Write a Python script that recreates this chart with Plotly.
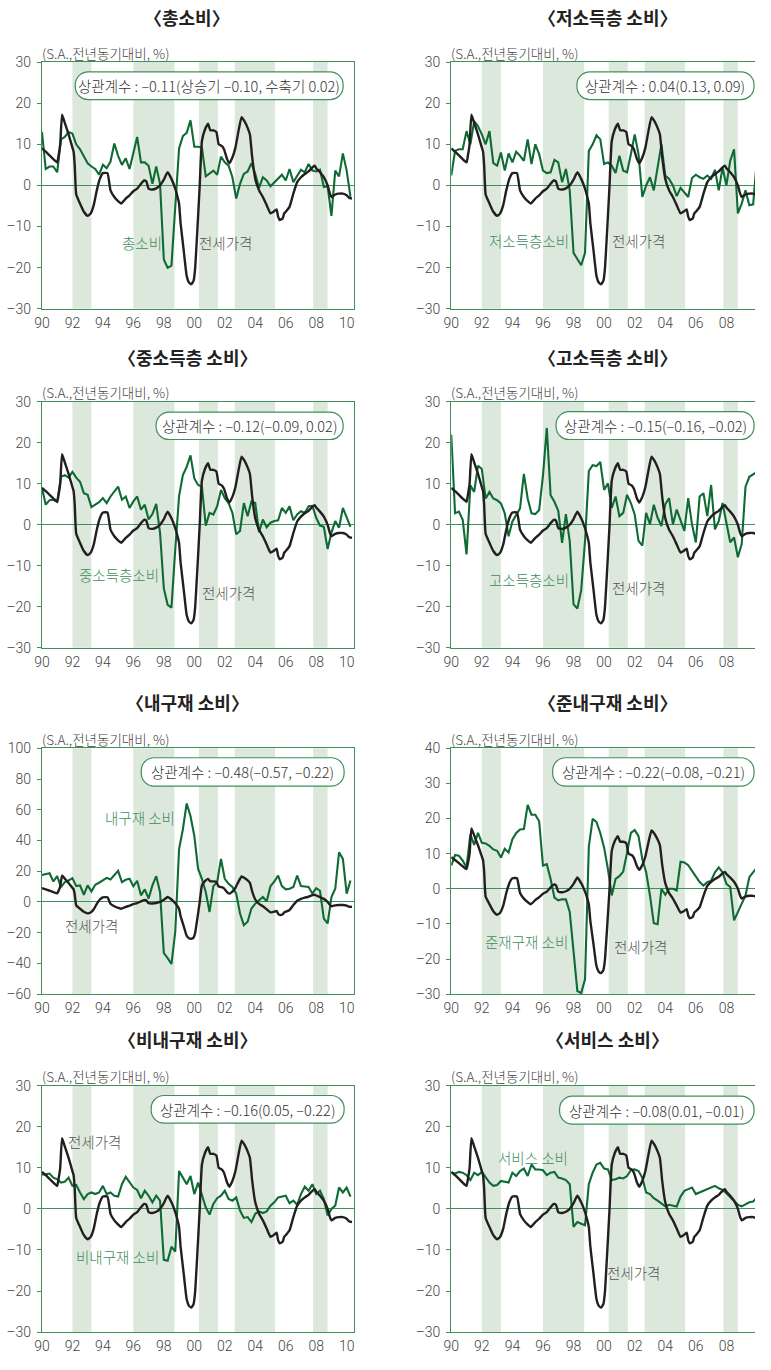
import plotly.graph_objects as go

# page is 771 x 1370; the document body keeps its default 8px margin,
# so the figure itself is drawn 16px smaller in each direction
PAGE_W, PAGE_H = 771, 1370
OFF = 8
W, H = PAGE_W - 2 * OFF, PAGE_H - 2 * OFF
KFONT = "Noto Sans CJK KR"
NFONT = "Roboto"

# ---------------- data ----------------
# quarterly observations, 1990Q1 .. 2010Q2
quarters = [1990 + i / 4 for i in range(82)]

# jeonse (lease deposit) price, YoY %, plotted on its own time grid
jeonse_t = [1990.0, 1990.25, 1990.5, 1990.75, 1991.0, 1991.1, 1991.2, 1991.32, 1991.5, 1991.75,
            1992.0, 1992.08, 1992.15, 1992.25, 1992.5, 1992.75, 1993.0, 1993.2, 1993.4, 1993.6,
            1993.8, 1994.0, 1994.3, 1994.5, 1994.75, 1995.0, 1995.2, 1995.5, 1995.75, 1996.0,
            1996.25, 1996.5, 1996.7, 1996.85, 1997.0, 1997.25, 1997.5, 1997.75, 1998.0, 1998.25,
            1998.5, 1998.75, 1998.9, 1999.0, 1999.1, 1999.3, 1999.5, 1999.65, 1999.8, 1999.95,
            2000.05, 2000.2, 2000.35, 2000.5, 2000.7, 2000.9, 2001.05, 2001.25, 2001.45, 2001.6,
            2001.8, 2001.95, 2002.15, 2002.3, 2002.5, 2002.7, 2002.9, 2003.1, 2003.3, 2003.5,
            2003.65, 2003.8, 2004.0, 2004.25, 2004.5, 2004.75, 2005.0, 2005.2, 2005.4, 2005.5,
            2005.6, 2005.8, 2005.9, 2006.0, 2006.25, 2006.5, 2006.75, 2007.0, 2007.25, 2007.5,
            2007.75, 2007.9, 2008.0, 2008.25, 2008.5, 2008.75, 2008.9, 2009.0, 2009.25, 2009.5,
            2009.75, 2010.0, 2010.15, 2010.35]
jeonse_v = [9.0, 8.2, 7.3, 6.4, 5.6, 7.5, 10.0, 17.2, 15.2, 12.4,
            9.2, 8.2, 5.0, -2.2, -4.4, -6.4, -7.4, -6.8, -4.8, -1.2,
            1.6, 3.0, 3.0, -1.2, -2.8, -3.8, -4.4, -3.2, -2.4, -1.4,
            -0.8, 0.4, 1.2, 1.0, -0.8, -1.0, -0.7, 0.0, 1.4, 3.2,
            1.6, -0.8, -2.8, -4.4, -9.2, -15.6, -22.0, -23.6, -24.0, -23.2,
            -20.4, -10.8, -0.4, 10.8, 13.6, 15.0, 13.4, 13.4, 13.0, 10.0,
            9.6, 8.8, 6.4, 5.4, 6.8, 9.2, 13.2, 16.6, 15.6, 14.0,
            12.4, 6.8, 1.6, -1.2, -2.8, -4.8, -6.8, -6.4, -5.8, -7.6,
            -8.4, -8.0, -6.8, -6.4, -5.2, -2.0, 0.8, 2.0, 2.8, 3.4,
            4.4, 4.8, 4.2, 3.2, 2.0, 0.0, -2.0, -2.8, -2.2, -2.0,
            -2.0, -2.4, -3.0, -3.2]

# consumption, YoY %, quarterly
total = [13.0, 4.0, 4.6, 4.6, 3.2, 11.2, 11.8, 13.0, 12.6, 10.0,
         8.8, 7.0, 5.4, 4.6, 4.0, 2.6, 5.0, 4.2, 5.8, 10.2,
         7.2, 5.0, 6.6, 4.0, 7.6, 11.8, 5.6, 5.6, 4.8, 0.4,
         4.6, 0.4, -18.0, -20.0, -19.5, -5.0, 9.0, 12.0, 12.8, 15.8,
         9.4, 9.4, 9.2, 2.2, 2.8, 3.6, 2.6, 7.0, 5.6, 4.8,
         2.0, -3.2, 0.4, 2.8, 3.4, 5.4, 2.8, -0.6, 2.0, 1.2,
         -0.2, 0.8, 1.6, 2.6, 1.2, 4.0, 0.8, 2.4, 3.8, 3.2,
         5.2, 3.6, 3.4, 3.8, -0.4, -0.2, -7.4, 3.6, 2.2, 7.8,
         3.6, -2.8]
low_income = [2.4, 8.4, 8.8, 8.8, 13.2, 10.0, 15.6, 14.4, 12.4, 10.0,
              13.2, 5.4, 4.8, 8.0, 3.6, 7.8, 5.6, 8.2, 7.2, 6.0,
              11.2, 5.2, 10.0, 7.6, 3.6, 3.0, 3.2, 6.2, 5.6, 0.8,
              4.0, -1.2, -16.4, -18.0, -19.4, -16.4, 8.4, 10.0, 12.2, 11.2,
              5.2, 5.6, 4.8, 3.0, 7.2, 3.6, 3.2, 7.6, 12.4, 7.6,
              -2.8, 0.0, 2.0, -1.2, 4.4, 10.0, 2.4, 1.6, 0.0, -2.6,
              -0.6, -1.6, -2.8, 1.8, 2.6, 2.0, 1.6, 2.4, 1.6, 3.8,
              -1.2, 4.4, 0.0, 6.0, 8.8, -6.8, -4.4, -1.2, -4.8, -4.6,
              6.6, 2.8]
mid_income = [9.0, 4.9, 6.0, 6.1, 5.6, 11.7, 12.1, 11.5, 12.9, 11.5,
              10.5, 7.7, 7.3, 4.3, 4.9, 5.5, 6.5, 5.3, 6.9, 8.0,
              9.3, 6.1, 6.9, 4.1, 5.7, 6.9, 3.7, 4.9, 1.3, 2.6,
              5.1, -1.9, -15.5, -19.5, -20.2, -6.0, 7.0, 12.1, 14.1, 16.9,
              11.3, 9.7, 9.3, -0.2, 2.9, 2.5, 4.5, 8.5, 6.5, 5.3,
              2.9, -2.3, -1.5, 5.3, 2.1, 5.7, 5.3, -1.8, 1.3, -0.6,
              0.5, 0.9, 1.1, 4.1, 2.9, 4.5, 1.1, 2.5, 3.3, 2.9,
              4.5, 4.6, 1.7, -0.2, -0.5, -5.9, -1.9, 0.9, -0.7, 4.1,
              1.7, -0.5]
high_income = [22.0, 2.8, 3.2, 1.2, -7.2, 9.6, 8.0, 14.4, 13.6, 6.4,
               8.0, 6.4, 6.0, 5.2, 2.8, -2.8, 0.8, 2.4, 4.0, 12.4,
               6.4, 2.8, 2.6, 3.6, 12.0, 23.6, 7.2, 5.6, 3.4, -4.4,
               2.6, -4.0, -19.4, -20.4, -16.0, -4.0, 13.1, 14.5, 14.3, 15.3,
               8.5, 10.1, 4.1, 6.9, 2.1, 2.9, 7.3, 5.3, 2.5, -3.9,
               -5.1, 2.9, 0.1, 4.9, 1.7, -0.3, 5.0, 6.5, 0.1, 3.7,
               1.3, -1.5, 6.5, 0.1, -4.3, 6.9, 7.7, 2.1, 9.7, -1.1,
               0.9, 5.3, 0.5, -4.3, -3.1, -7.9, -4.7, 9.3, 11.7, 12.4,
               12.9, -9.1]
durable = [17.6, 18.3, 18.7, 13.3, 16.8, 9.7, 12.9, 14.0, 15.5, 10.3,
           10.8, 4.7, 10.8, 6.9, 11.2, 12.5, 14.0, 15.7, 14.6, 17.2,
           20.2, 12.9, 14.4, 15.1, 10.3, 13.8, 4.3, 8.2, 2.2, 10.8,
           16.8, 6.5, -33.3, -36.6, -40.4, -19.4, 34.4, 47.3, 64.1, 55.9,
           43.0, 21.5, 15.1, 6.5, -6.5, 10.3, 12.9, 28.0, 15.1, 11.8,
           9.7, 5.4, -7.5, -15.1, -12.9, -4.3, -1.1, 1.1, 3.2, 0.4,
           10.3, 13.3, 17.2, 10.3, 8.2, 8.6, 9.7, 17.2, 10.3, 10.1,
           9.7, 5.4, 9.0, 7.3, -10.8, -14.0, 3.2, 8.6, 32.3, 28.0,
           5.4, 14.0]
semi_durable = [6.6, 9.6, 9.4, 8.0, 6.1, 15.5, 12.5, 15.9, 13.1, 12.9,
                12.2, 11.2, 10.8, 8.9, 11.4, 10.3, 14.1, 15.9, 16.9, 17.0,
                23.9, 21.1, 21.1, 19.2, 6.6, 7.0, 2.8, -2.5, -3.3, -3.0,
                -3.0, -6.6, -17.8, -29.1, -29.7, -25.8, 12.0, 19.9, 19.0, 15.9,
                11.7, 5.6, -1.9, 2.8, 3.6, 4.9, 10.3, 15.9, 16.7, 15.0,
                8.4, 4.7, -1.9, -9.8, -10.1, 0.0, -1.7, 0.0, 0.0, -0.5,
                7.7, 7.5, 6.7, 5.2, 3.7, 1.9, 0.9, 1.9, 2.3, 4.7,
                6.1, 4.7, 1.4, 0.5, -9.0, -6.6, -4.7, -1.9, 3.3, 4.7,
                6.1, 6.1]
nondurable = [8.4, 8.4, 8.6, 7.6, 7.2, 6.4, 6.6, 7.6, 5.6, 5.8,
              4.0, 2.4, 3.6, 4.0, 3.6, 4.0, 5.6, 3.6, 4.0, 3.2,
              3.0, 6.0, 7.8, 6.4, 5.2, 4.6, 2.6, 4.4, 3.2, 1.6,
              3.2, 2.0, -12.4, -12.6, -9.2, -10.4, 9.2, 7.6, 6.0, 8.0,
              3.6, 6.4, 3.2, 0.4, -1.4, 1.2, 2.6, 3.2, 4.4, 2.4,
              2.0, 2.8, -0.4, -2.2, -2.0, -3.2, -1.2, -0.6, -1.0, -0.6,
              0.8, 1.6, 2.8, 3.0, 3.2, 1.4, 2.0, 1.0, 3.6, 5.4,
              4.4, 6.0, 3.6, 4.4, 2.4, -1.6, 0.0, 0.8, 5.2, 4.0,
              5.2, 3.0]
services = [8.8, 8.6, 9.0, 8.8, 8.2, 7.0, 8.8, 8.2, 9.0, 7.6,
            6.4, 5.6, 5.8, 6.8, 6.6, 6.4, 8.8, 8.0, 9.2, 9.8,
            8.0, 10.8, 9.6, 9.6, 9.4, 8.2, 8.8, 9.0, 7.6, 7.4,
            7.0, 6.0, -4.4, -3.2, -3.6, -4.0, 6.0, 8.8, 10.8, 11.2,
            9.8, 9.6, 7.0, 7.2, 7.6, 7.4, 8.0, 9.4, 9.6, 9.2,
            7.6, 4.0, 3.6, 2.6, 2.0, 1.2, 0.6, 1.0, 0.8, 0.6,
            3.0, 4.4, 4.8, 5.2, 3.6, 4.0, 4.4, 4.8, 5.2, 5.6,
            5.0, 4.6, 3.8, 2.8, 2.0, 1.0, 0.6, 1.0, 1.6, 1.8,
            2.8, 1.6]

# business-cycle contraction periods (shaded)
contractions = [(1992.0, 1993.25), (1996.0, 1998.7), (2000.3, 2001.55),
                (2002.65, 2005.3), (2007.8, 2008.75)]

x_tick_vals = list(range(1990, 2011, 2))
x_tick_text = ["90", "92", "94", "96", "98", "00", "02", "04", "06", "08", "10"]

titles = ["〈총소비〉", "〈저소득층 소비〉", "〈중소득층 소비〉", "〈고소득층 소비〉",
          "〈내구재 소비〉", "〈준내구재 소비〉", "〈비내구재 소비〉", "〈서비스 소비〉"]
series_names = ["총소비", "저소득층소비", "중소득층소비", "고소득층소비",
                "내구재 소비", "준재구재 소비", "비내구재 소비", "서비스 소비"]
correlations = ["상관계수 : –0.11(상승기 –0.10, 수축기 0.02)",
                "상관계수 : 0.04(0.13, 0.09)",
                "상관계수 : –0.12(–0.09, 0.02)",
                "상관계수 : –0.15(–0.16, –0.02)",
                "상관계수 : –0.48(–0.57, –0.22)",
                "상관계수 : –0.22(–0.08, –0.21)",
                "상관계수 : –0.16(0.05, –0.22)",
                "상관계수 : –0.08(0.01, –0.01)"]
series_values = [total, low_income, mid_income, high_income,
                 durable, semi_durable, nondurable, services]
y_ranges = [(-30, 30, 10)] * 4 + [(-60, 100, 20), (-30, 40, 10)] + [(-30, 30, 10)] * 2

# ---------------- layout geometry (page pixels) ----------------
COL_X = [(42.3, 357.7), (456.0, PAGE_W - OFF)]
PX_PER_YEAR = [15.4, 15.45]
ROW_Y = [(62.7, 312.7), (406.7, 656.0), (757.7, 1006.7), (1099.3, 1349.0)]
TITLE_X = [189, 614]
TITLE_Y = [17, 361.7, 710.7, 1052]
UNIT_Y = [53.3, 396.7, 748.3, 1090]

BOXES = [(76, 72.7, 346.7, 100.7), (583, 72.7, 762, 100.7),
         (157.7, 417.3, 346.7, 445), (562, 416.7, 762, 445),
         (142.7, 767.3, 347.7, 796), (558.5, 767.3, 762, 796),
         (152.7, 1109.3, 347.7, 1137.3), (565.5, 1110, 762, 1138.3)]
SERIES_LABEL_POS = [(143, 245), (534.7, 243.3), (119.7, 581.7), (535, 586.7),
                    (141.7, 827.3), (532, 953.3), (118.3, 1272.7), (538.8, 1171.7)]
JEONSE_LABEL_POS = [(228, 245), (645, 243.3), (231.3, 600), (645, 595),
                    (92, 936.7), (647.3, 958.3), (95, 1156), (640.7, 1288.3)]

GREEN = "#0f6b34"
AXIS_GREEN = "#3f8f5a"
LABEL_GREEN = "#3d8c59"
BAND = "#dde8dc"
BLACK = "#231f20"
GRAY_TEXT = "#555555"
TICK_FONT = dict(family=NFONT, size=14, color="#444", weight=300)


def px_x(px):
    return (px - OFF) / W


def px_y(py):
    return 1 - (py - OFF) / H


def pill_path(x0, y0, x1, y1, r):
    k = 0.5523 * r

    def P(x, y):
        return f"{px_x(x):.5f},{px_y(y):.5f}"

    return " ".join([
        f"M{P(x0 + r, y0)}",
        f"L{P(x1 - r, y0)}",
        f"C{P(x1 - r + k, y0)} {P(x1, y0 + r - k)} {P(x1, y0 + r)}",
        f"L{P(x1, y1 - r)}",
        f"C{P(x1, y1 - r + k)} {P(x1 - r + k, y1)} {P(x1 - r, y1)}",
        f"L{P(x0 + r, y1)}",
        f"C{P(x0 + r - k, y1)} {P(x0, y1 - r + k)} {P(x0, y1 - r)}",
        f"L{P(x0, y0 + r)}",
        f"C{P(x0, y0 + r - k)} {P(x0 + r - k, y0)} {P(x0 + r, y0)}",
        "Z",
    ])


fig = go.Figure()
shapes = []
annotations = []
layout_axes = {}

for i in range(8):
    row, col = divmod(i, 2)
    n = i + 1
    xa = "x" if n == 1 else f"x{n}"
    ya = "y" if n == 1 else f"y{n}"
    xkey = "xaxis" if n == 1 else f"xaxis{n}"
    ykey = "yaxis" if n == 1 else f"yaxis{n}"

    cx0, cx1 = COL_X[col]
    ry0, ry1 = ROW_Y[row]
    x_end = 1990 + (cx1 - cx0) / PX_PER_YEAR[col]
    ylo, yhi, ystep = y_ranges[i]
    yvals = list(range(ylo, yhi + 1, ystep))
    ytext = [(f"–{abs(v)}" if v < 0 else str(v)) for v in yvals]

    layout_axes[xkey] = dict(
        domain=[px_x(cx0), min(1.0, px_x(cx1))], range=[1990, x_end], anchor=ya,
        tickvals=x_tick_vals, ticktext=x_tick_text, ticks="", showgrid=False,
        zeroline=False, showline=True, linecolor=AXIS_GREEN, linewidth=1.2,
        mirror=True, tickfont=TICK_FONT, ticklabeloverflow="allow",
        ticklabelstandoff=1, fixedrange=True,
    )
    layout_axes[ykey] = dict(
        domain=[px_y(ry1), px_y(ry0)], range=[ylo, yhi], anchor=xa,
        tickvals=yvals, ticktext=ytext, ticks="outside", ticklen=4,
        tickcolor=AXIS_GREEN, showgrid=False, zeroline=True,
        zerolinecolor=AXIS_GREEN, zerolinewidth=1.2, showline=True,
        linecolor=AXIS_GREEN, linewidth=1.2, mirror=(col == 0),
        tickfont=TICK_FONT, ticklabelstandoff=3, ticklabeloverflow="allow",
        fixedrange=True,
    )

    for a, b in contractions:
        shapes.append(dict(type="rect", xref=xa, yref=f"{ya} domain", x0=a, x1=b,
                           y0=0, y1=1, fillcolor=BAND, line=dict(width=0),
                           layer="below"))

    fig.add_trace(go.Scatter(x=quarters, y=series_values[i], mode="lines",
                             line=dict(color=GREEN, width=2.1), xaxis=xa, yaxis=ya,
                             showlegend=False, hoverinfo="skip"))
    fig.add_trace(go.Scatter(x=jeonse_t, y=jeonse_v, mode="lines",
                             line=dict(color=BLACK, width=2.4, shape="spline",
                                       smoothing=0.4),
                             xaxis=xa, yaxis=ya, showlegend=False, hoverinfo="skip"))

    # panel title
    annotations.append(dict(text=titles[i], xref="paper", yref="paper",
                            x=px_x(TITLE_X[col]), y=px_y(TITLE_Y[row]),
                            xanchor="center", yanchor="middle", showarrow=False,
                            font=dict(family=KFONT, size=18, color="#222", weight=700)))
    # unit label
    annotations.append(dict(text="(S.A.,전년동기대비, %)", xref="paper", yref="paper",
                            x=px_x(cx0 - 2), y=px_y(UNIT_Y[row]),
                            xanchor="left", yanchor="middle", showarrow=False,
                            font=dict(family=KFONT, size=13.5, color="#444", weight=300)))
    # correlation box
    bx0, by0, bx1, by1 = BOXES[i]
    shapes.append(dict(type="path", xref="paper", yref="paper",
                       path=pill_path(bx0, by0, bx1, by1, 13),
                       line=dict(color=AXIS_GREEN, width=1.2), fillcolor="white",
                       layer="above"))
    annotations.append(dict(text=correlations[i], xref="paper", yref="paper",
                            x=px_x((bx0 + bx1) / 2), y=px_y((by0 + by1) / 2),
                            xanchor="center", yanchor="middle", showarrow=False,
                            font=dict(family=KFONT, size=14.5, color="#333", weight=300)))
    # series labels
    lx, ly = SERIES_LABEL_POS[i]
    annotations.append(dict(text=series_names[i], xref="paper", yref="paper",
                            x=px_x(lx), y=px_y(ly), xanchor="center", yanchor="middle",
                            showarrow=False,
                            font=dict(family=KFONT, size=14.5, color=LABEL_GREEN, weight=300)))
    jx, jy = JEONSE_LABEL_POS[i]
    annotations.append(dict(text="전세가격", xref="paper", yref="paper",
                            x=px_x(jx), y=px_y(jy), xanchor="center", yanchor="middle",
                            showarrow=False,
                            font=dict(family=KFONT, size=14.5, color=GRAY_TEXT, weight=300)))

fig.update_layout(
    width=W, height=H, margin=dict(l=0, r=0, t=0, b=0),
    paper_bgcolor="white", plot_bgcolor="white",
    shapes=shapes, annotations=annotations, showlegend=False,
    **layout_axes,
)

fig.write_html("out.html", config={"displayModeBar": False})
